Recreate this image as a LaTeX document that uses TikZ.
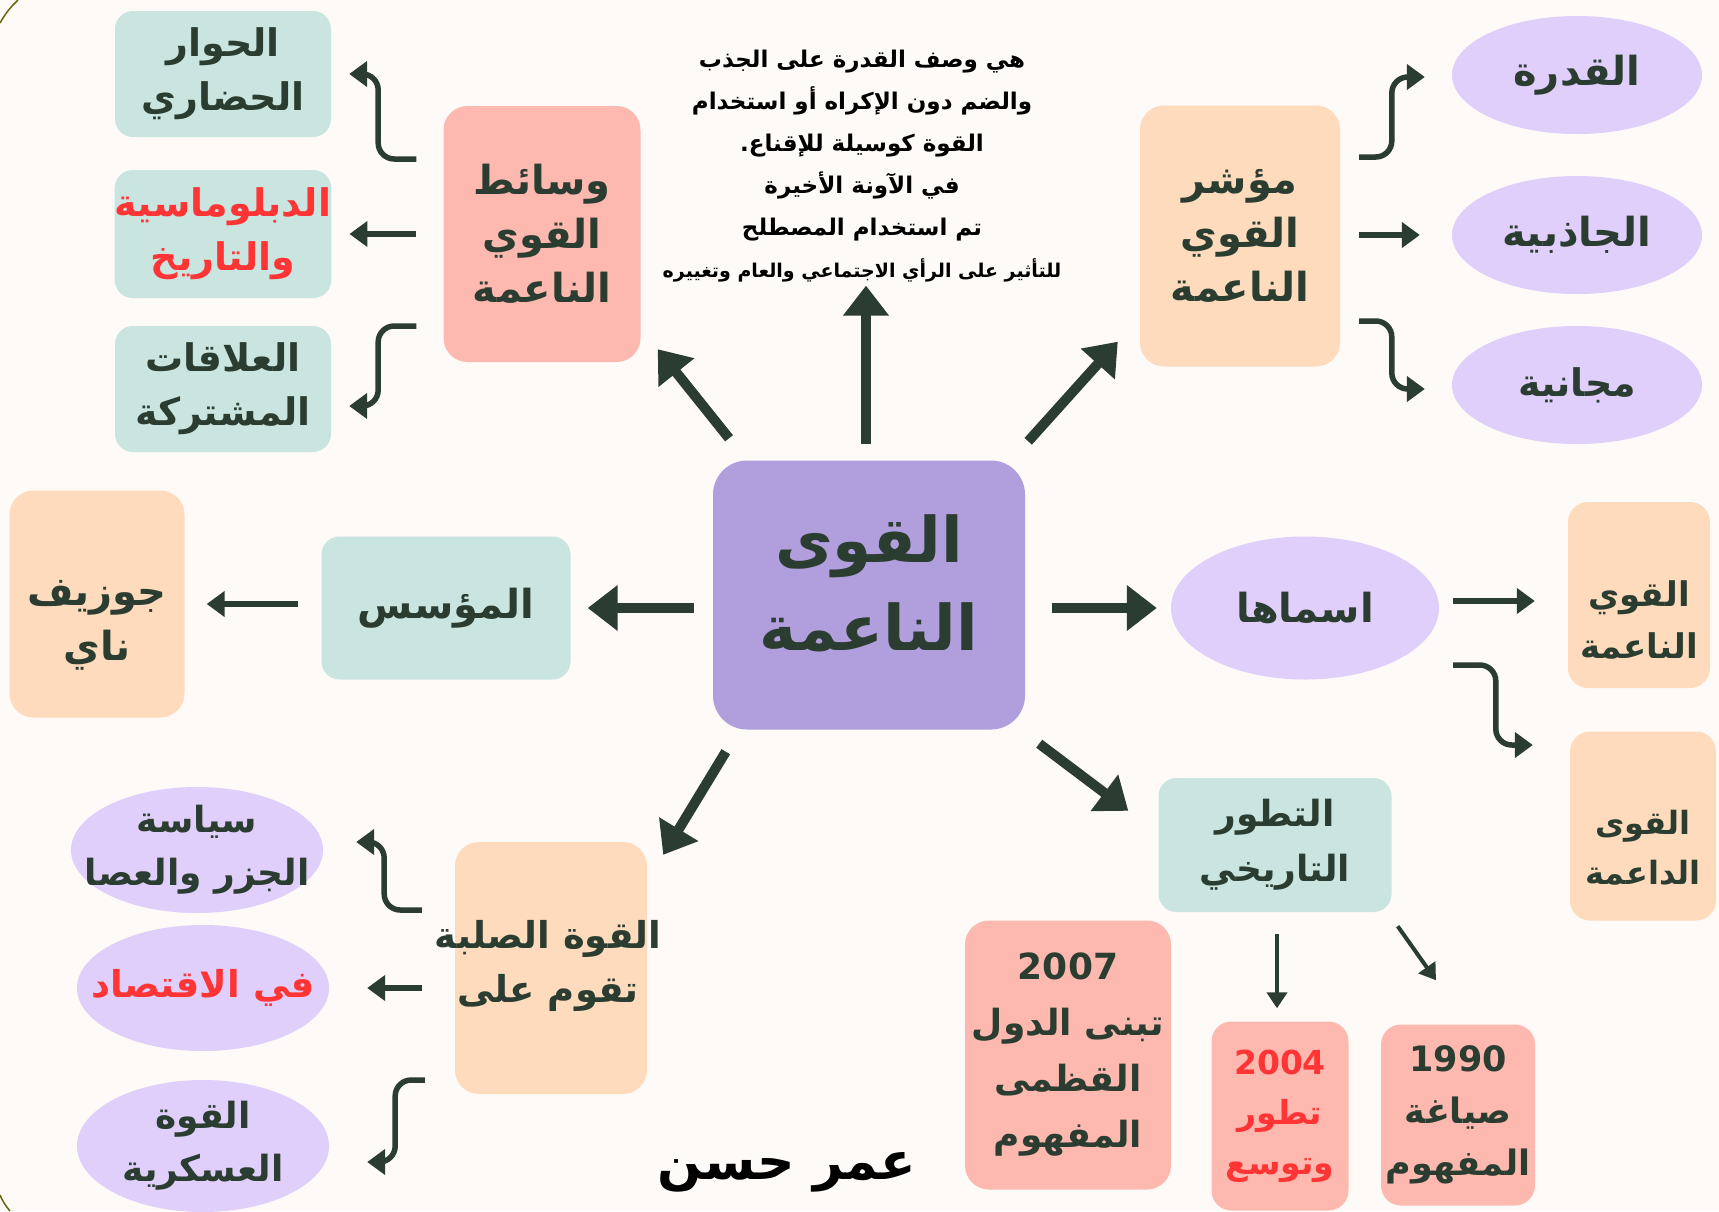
\documentclass[tikz,border=0pt]{standalone}
\usepackage{fontspec}
\usetikzlibrary{arrows.meta,calc,shapes.geometric}
\newfontfamily\arfont[Script=Arabic]{DejaVu Sans}
\TeXXeTstate=1
\newcommand{\AR}[1]{\beginR #1\endR}
\definecolor{bgc}{HTML}{FDFAF7}
\definecolor{ink}{HTML}{2B3D30}
\definecolor{cpurple}{HTML}{B09EDD}
\definecolor{cpink}{HTML}{FDB8AF}
\definecolor{cteal}{HTML}{CAE5DF}
\definecolor{cpeach}{HTML}{FDDBBC}
\definecolor{clav}{HTML}{E0CEFB}
\definecolor{cred}{HTML}{FF3535}
\definecolor{olive}{HTML}{6B6410}
\tikzset{
  fsz/.style 2 args={font=\arfont\bfseries\fontsize{#1}{#2}\selectfont},
  rbox/.style={rectangle, rounded corners=24pt, inner sep=0pt, align=center, text=ink},
  ebox/.style={ellipse, inner xsep=-45pt, inner ysep=-25pt, align=center, text=ink, fill=clav},
  txt/.style={align=center, text=ink, inner sep=0pt},
  big/.style={draw=ink, line width=10pt, -{Triangle[length=30pt,width=44pt]}},
  sarr/.style={draw=ink, line width=5.5pt, -{Triangle[length=18pt,width=25pt]}},
  tarr/.style={draw=ink, line width=4pt, -{Triangle[length=16pt,width=20pt]}},
  carr/.style={sarr, rounded corners=16pt},
}
\begin{document}
\begin{tikzpicture}[x=1pt,y=-1pt]
\fill[bgc] (0,0) rectangle (1719,1211);
\useasboundingbox (0,0) rectangle (1719,1211);
\draw[olive, line width=1.5pt] (0,23) to[bend left=8] (18,0);
\draw[olive, line width=1.5pt] (0,1195) to[bend right=8] (10,1211);

% centre
\node[rbox, rounded corners=34pt, fill=cpurple, minimum width=312pt, minimum height=269pt] (c) at (869,595) {};
\node[txt, fsz={63}{88}] (ct) at (869,583) {\AR{القوى}\\\AR{الناعمة}};

% description
\node[align=center, text=black, fsz={23}{42}] (desc) at (862,166)
 {\AR{هي وصف القدرة على الجذب}\\\AR{والضم دون الإكراه أو استخدام}\\\AR{القوة كوسيلة للإقناع.}\\\AR{في الآونة الأخيرة}\\\AR{تم استخدام المصطلح}\\{\fontsize{19}{38}\selectfont\AR{للتأثير على الرأي الاجتماعي والعام وتغييره}}};

% upper left group
\node[rbox, fill=cpink, minimum width=197pt, minimum height=256pt, fsz={40}{54}] (wsa) at (542,234) {\AR{وسائط}\\\AR{القوي}\\\AR{الناعمة}};
\node[rbox, rounded corners=18pt, fill=cteal, minimum width=216pt, minimum height=126pt, fsz={38}{54}] (hw) at (223,74) {\AR{الحوار}\\\AR{الحضاري}};
\node[rbox, rounded corners=18pt, fill=cteal, minimum width=216pt, minimum height=128pt, fsz={38}{54}, text=cred] (dip) at (223,234) {\AR{الدبلوماسية}\\\AR{والتاريخ}};
\node[rbox, rounded corners=18pt, fill=cteal, minimum width=216pt, minimum height=126pt, fsz={38}{54}] (ala) at (223,389) {\AR{العلاقات}\\\AR{المشتركة}};

% upper right group
\node[rbox, fill=cpeach, minimum width=200pt, minimum height=261pt, fsz={40}{54}] (mo) at (1240,236) {\AR{مؤشر}\\\AR{القوي}\\\AR{الناعمة}};
\node[ebox, minimum width=250pt, minimum height=118pt, fsz={40}{54}] (qd) at (1577,75) {\AR{القدرة}};
\node[ebox, minimum width=250pt, minimum height=118pt, fsz={40}{54}] (jz) at (1577,235) {\AR{الجاذبية}};
\node[ebox, minimum width=250pt, minimum height=118pt, fsz={38}{54}] (mj) at (1577,385) {\AR{مجانية}};

% middle left
\node[rbox, rounded corners=18pt, fill=cteal, minimum width=249pt, minimum height=143pt, fsz={40}{54}] (mos) at (446,608) {\AR{المؤسس}};
\node[rbox, fill=cpeach, minimum width=175pt, minimum height=227pt] (jn) at (97,604) {};
\node[txt, fsz={40}{55}] (jnt) at (97,625) {\AR{جوزيف}\\\AR{ناي}};

% middle right
\node[ebox, minimum width=268pt, minimum height=143pt, fsz={40}{54}] (asm) at (1305,608) {\AR{اسماها}};
\node[rbox, rounded corners=20pt, fill=cpeach, minimum width=142pt, minimum height=186pt] (qn) at (1639,595) {};
\node[txt, fsz={34}{52}] (qnt) at (1639,620) {\AR{القوي}\\\AR{الناعمة}};
\node[rbox, rounded corners=20pt, fill=cpeach, minimum width=146pt, minimum height=189pt] (qda) at (1643,826) {};
\node[txt, fsz={32}{50}] (qdat) at (1643,848) {\AR{القوى}\\\AR{الداعمة}};

% historical
\node[rbox, rounded corners=18pt, fill=cteal, minimum width=233pt, minimum height=134pt, fsz={36}{55}] (tt) at (1275,845) {\AR{التطور}\\\AR{التاريخي}};
\node[rbox, fill=cpink, minimum width=206pt, minimum height=269pt, fsz={36}{56}] (y2007) at (1068,1055) {2007\\\AR{تبنى الدول}\\\AR{القظمى}\\\AR{المفهوم}};
\node[rbox, rounded corners=20pt, fill=cpink, minimum width=137pt, minimum height=189pt, fsz={33}{50}, text=cred] (y2004) at (1280,1116) {2004\\\AR{تطور}\\\AR{وتوسع}};
\node[rbox, rounded corners=20pt, fill=cpink, minimum width=154pt, minimum height=181pt, fsz={35}{52}] (y1990) at (1458,1115) {1990\\\AR{صياغة}\\\AR{المفهوم}};

% hard power group
\node[rbox, fill=cpeach, minimum width=192pt, minimum height=252pt] (hard) at (551,968) {};
\node[txt, fsz={37}{54}] (hardt) at (548,966) {\AR{القوة الصلبة}\\\AR{تقوم على}};
\node[ebox, minimum width=252pt, minimum height=126pt, fsz={36}{53}] (sj) at (197,850) {\AR{سياسة}\\\AR{الجزر والعصا}};
\node[ebox, minimum width=252pt, minimum height=126pt, fsz={37}{54}, text=cred] (iq) at (203,988) {\AR{في الاقتصاد}};
\node[ebox, minimum width=252pt, minimum height=132pt, fsz={36}{53}] (ask) at (203,1146) {\AR{القوة}\\\AR{العسكرية}};

% author
\node[text=black, fsz={52}{60}] (auth) at (787,1172) {\AR{عمر حسن}};

% thick arrows from centre
\draw[big] ($(c.north)+(-3,-16)$) -- ($(c.north |- desc.south)+(-3,0)$);
\draw[big] ($(c.north)+(-140,-22)$) -- ($(wsa.south east)+(17,-13)$);
\draw[big] ($(c.north east)+(3,-19)$) -- ($(mo.south west)+(-22,-25)$);
\draw[big, shorten <=19pt, shorten >=17pt] (c.west |- mos.east) -- (mos.east);
\draw[big, shorten <=27pt, shorten >=14pt] (c.east |- asm.west) -- (asm.west);
\draw[big] ($(c.south west)+(13,22)$) -- ($(hard.north east)+(16,13)$);
\draw[big] ($(c.south east)+(14,14)$) -- ($(tt.north west)+(-30,33)$);

% upper left connectors
\draw[carr] ($(wsa.west)+(-27,-75)$) -| ($(hw.east)+(47,0)$) -- ($(hw.east)+(18,0)$);
\draw[sarr, shorten <=27pt, shorten >=18pt] (wsa.west |- dip.east) -- (dip.east);
\draw[carr] ($(wsa.west)+(-27,92)$) -| ($(ala.east)+(47,17)$) -- ($(ala.east)+(18,17)$);

% upper right connectors
\draw[carr] ($(mo.east)+(19,-79)$) -| ($(qd.west)+(-60,2)$) -- ($(qd.west)+(-27,2)$);
\draw[sarr, shorten <=19pt, shorten >=32pt] (mo.east |- jz.west) -- (jz.west);
\draw[carr] ($(mo.east)+(19,85)$) -| ($(mj.west)+(-60,4)$) -- ($(mj.west)+(-27,4)$);

% founder
\draw[sarr, line width=6pt, shorten <=23pt, shorten >=22pt] (mos.west |- jn.east) -- (jn.east);

% names
\draw[sarr] ($(asm.east)+(14,-7)$) -- ($(qn.west)+(-33,6)$);
\draw[carr] ($(asm.east)+(14,57)$) -| ($(qda.west)+(-74,-81)$) -- ($(qda.west)+(-37,-81)$);

% historical arrows
\draw[tarr] ($(tt.south)+(2,22)$) -- ($(y2004.north)+(-3,-13)$);
\draw[tarr] ($(tt.south east)+(6,14)$) -- ($(y1990.north)+(-22,-44)$);

% hard power connectors
\draw[carr] ($(hard.west)+(-33,-58)$) -| ($(sj.east)+(61,-8)$) -- ($(sj.east)+(33,-8)$);
\draw[sarr, shorten <=33pt, shorten >=38pt] (hard.west |- iq.east) -- (iq.east);
\draw[carr] ($(hard.west)+(-30,112)$) -| ($(ask.east)+(66,16)$) -- ($(ask.east)+(38,16)$);
\end{tikzpicture}
\end{document}
